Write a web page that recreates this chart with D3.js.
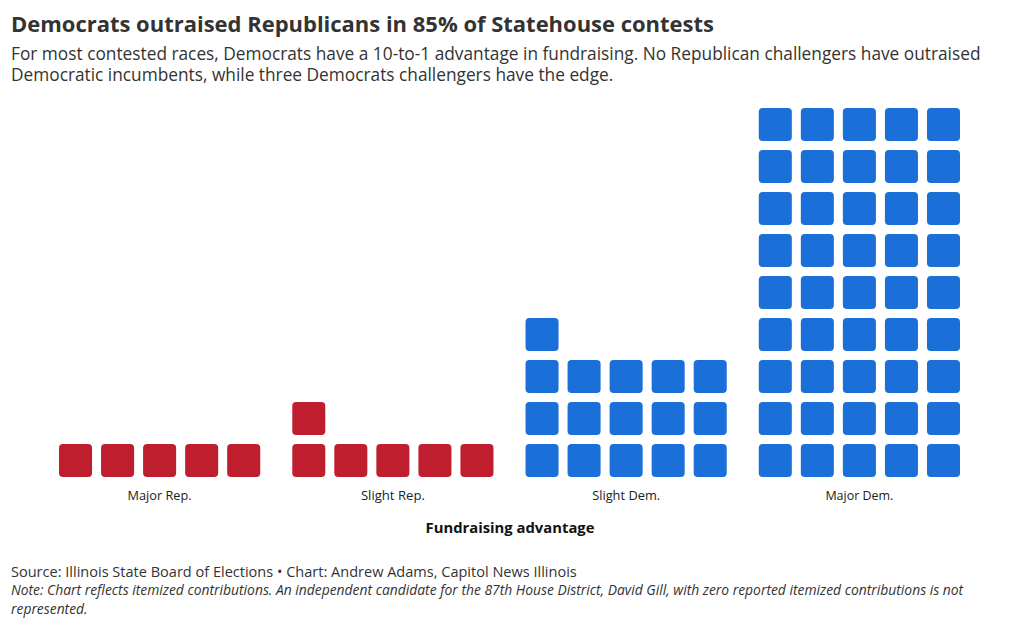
<!DOCTYPE html>
<html><head><meta charset="utf-8">
<script src="https://cdn.jsdelivr.net/npm/d3@7"></script>
<style>
body{margin:0;background:#fff;}
text{font-family:"Open Sans","Noto Sans",sans-serif;}
</style></head>
<body><svg id="c" width="1020" height="629"></svg>
<script>
const categories = ["Major Rep.", "Slight Rep.", "Slight Dem.", "Major Dem."];
const counts = [5, 6, 16, 45];
const party = ["rep", "rep", "dem", "dem"];
const colors = {rep: "#be1e2d", dem: "#1b6fd8"};
const perRow = 5;
const maxRows = 9;

const svg = d3.select("#c");

// fit a text's font size so its rendered width matches the target width
function fit(sel, target) {
  sel.each(function () {
    const fs = parseFloat(d3.select(this).attr("font-size"));
    const w = this.getComputedTextLength();
    if (w > 0) d3.select(this).attr("font-size", (fs * target / w).toFixed(2));
  });
}

// Titles
svg.append("text").attr("x", 11).attr("y", 32).attr("font-size", 22).attr("font-weight", 700).attr("fill", "#333")
  .text("Democrats outraised Republicans in 85% of Statehouse contests").call(fit, 703);
const sub = ["For most contested races, Democrats have a 10-to-1 advantage in fundraising. No Republican challengers have outraised",
  "Democratic incumbents, while three Democrats challengers have the edge."];
const subW = [970, 603];
svg.selectAll("text.sub").data(sub).join("text").attr("class", "sub")
  .attr("x", 11).attr("y", (d, i) => 60 + i * 21).attr("font-size", 17).attr("fill", "#333").text(d => d)
  .each(function (d, i) { fit(d3.select(this), subW[i]); });

// Scales
const x = d3.scaleBand().domain(categories).range([59, 960]).paddingInner(32 / 233).paddingOuter(0);
const col = d3.scaleBand().domain(d3.range(perRow)).range([0, x.bandwidth()]).paddingInner(9 / 42).paddingOuter(0);
const row = d3.scaleBand().domain(d3.range(maxRows)).range([477, 108]).paddingInner(9 / 42).paddingOuter(0);

const cells = [];
categories.forEach((c, gi) => {
  for (let k = 0; k < counts[gi]; k++) cells.push({cat: c, party: party[gi], col: k % perRow, row: Math.floor(k / perRow)});
});

svg.append("g").selectAll("rect").data(cells).join("rect")
  .attr("x", d => x(d.cat) + col(d.col))
  .attr("y", d => row(d.row))
  .attr("width", col.bandwidth())
  .attr("height", row.bandwidth())
  .attr("rx", 4).attr("ry", 4)
  .attr("fill", d => colors[d.party]);

// Axis
const axis = d3.axisBottom(x).tickSize(0).tickPadding(12);
const ag = svg.append("g").attr("transform", "translate(0,479)").call(axis);
ag.select(".domain").remove();
ag.selectAll("text").attr("font-size", 13).attr("fill", "#222").style("font-family", '"Open Sans","Noto Sans",sans-serif');
const labW = [64, 64, 68, 68];
ag.selectAll("text").each(function (d, i) { fit(d3.select(this), labW[i]); });

svg.append("text").attr("x", 510).attr("y", 533).attr("text-anchor", "middle").attr("font-size", 16).attr("font-weight", 700).attr("fill", "#111")
  .text("Fundraising advantage").call(fit, 169);

// Footer
svg.append("text").attr("x", 11).attr("y", 577).attr("font-size", 14).attr("fill", "#333")
  .text("Source: Illinois State Board of Elections • Chart: Andrew Adams, Capitol News Illinois").call(fit, 566);
const note = ["Note: Chart reflects itemized contributions. An independent candidate for the 87th House District, David Gill, with zero reported itemized contributions is not",
  "represented."];
const noteEls = svg.selectAll("text.note").data(note).join("text").attr("class", "note")
  .attr("x", 11).attr("y", (d, i) => 595 + i * 19).attr("font-size", 13).attr("font-style", "italic").attr("fill", "#333").text(d => d);
fit(noteEls.filter((d, i) => i === 0), 952);
noteEls.filter((d, i) => i === 1).attr("font-size", noteEls.filter((d, i) => i === 0).attr("font-size"));
</script></body></html>
